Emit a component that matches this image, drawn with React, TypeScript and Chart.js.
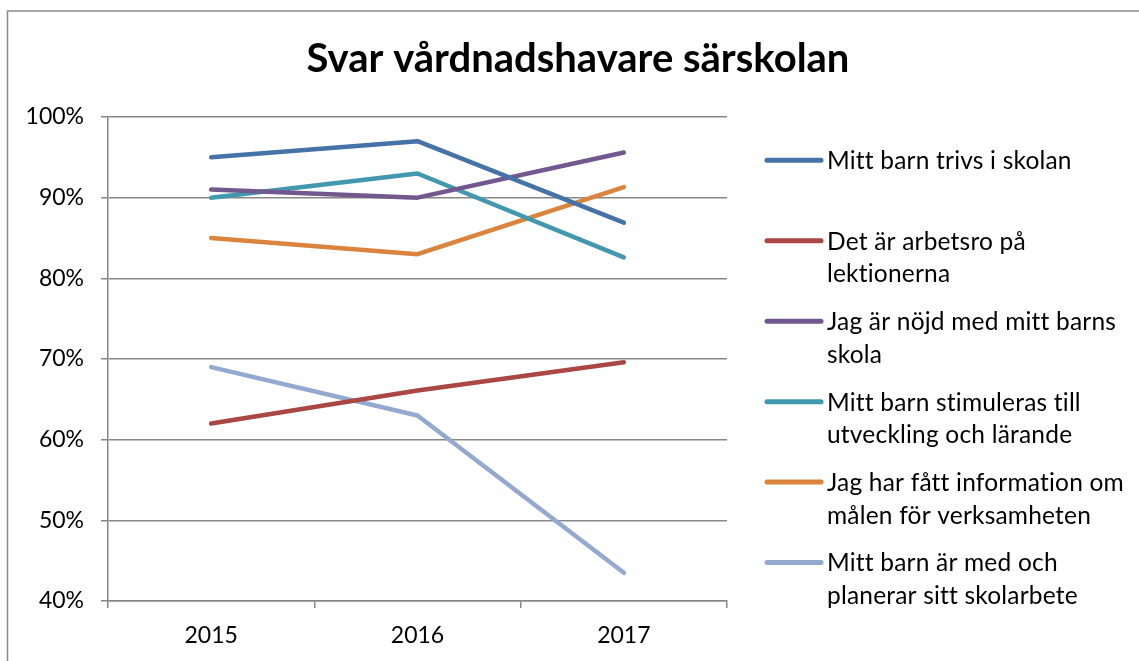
import React, { useEffect, useRef } from "react";
import { Chart, registerables } from "chart.js";

Chart.register(...registerables);

const categories = ["2015", "2016", "2017"];
const titleText = "Svar vårdnadshavare särskolan";
const yTicks = [40, 50, 60, 70, 80, 90, 100];

const seriesLines: string[][] = [
  ["Mitt barn trivs i skolan"],
  ["Det är arbetsro på", "lektionerna"],
  ["Jag är nöjd med mitt barns", "skola"],
  ["Mitt barn stimuleras till", "utveckling och lärande"],
  ["Jag har fått information om", "målen för verksamheten"],
  ["Mitt barn är med och", "planerar sitt skolarbete"],
];
const trivs = [95, 97, 86.9];
const arbetsro = [62, 66.1, 69.6];
const nojd = [91, 90, 95.6];
const stimuleras = [90, 93, 82.6];
const information = [85, 83, 91.3];
const delaktig = [69, 63, 43.5];
const seriesValues = [trivs, arbetsro, nojd, stimuleras, information, delaktig];
const seriesColors = ["#4572A7", "#AA4643", "#71588F", "#4198AF", "#DB843D", "#93A9CF"];

const FONT = "Lato, 'Open Sans', sans-serif";

const framePlugin = {
  id: "frame",
  beforeDraw(chart: any) {
    const ctx = chart.ctx;
    ctx.save();
    ctx.fillStyle = "#ffffff";
    ctx.fillRect(0, 0, chart.width, chart.height);
    ctx.strokeStyle = "#8a8a8a";
    ctx.lineWidth = 1.5;
    ctx.strokeRect(7.5, 11, chart.width + 20, chart.height + 20);
    ctx.restore();
  },
};

const titlePlugin = {
  id: "centerTitle",
  afterDraw(chart: any) {
    const ctx = chart.ctx;
    ctx.save();
    ctx.font = `bold 40px ${FONT}`;
    ctx.fillStyle = "#000000";
    ctx.textAlign = "center";
    ctx.textBaseline = "alphabetic";
    ctx.fillText(chart.options.plugins.centerTitle.text, 578, 72);
    ctx.restore();
  },
};

const legendPlugin = {
  id: "sideLegend",
  afterDraw(chart: any) {
    const ctx = chart.ctx;
    const area = chart.chartArea;
    ctx.save();
    ctx.font = `24.5px ${FONT}`;
    try { (ctx as any).letterSpacing = "0.2px"; } catch (e) {}
    ctx.textBaseline = "middle";
    ctx.textAlign = "left";
    chart.data.datasets.forEach((ds: any, i: number) => {
      const y = 160.3 + i * 80.45;
      const x0 = area.right + 40;
      ctx.strokeStyle = ds.borderColor;
      ctx.lineWidth = 5;
      ctx.lineCap = "round";
      ctx.beginPath();
      ctx.moveTo(x0, y);
      ctx.lineTo(x0 + 54, y);
      ctx.stroke();
      ctx.fillStyle = "#000000";
      (ds.lines as string[]).forEach((ln, j) => {
        ctx.fillText(ln, x0 + 60, y + 1 + j * 32.5);
      });
    });
    ctx.restore();
  },
};

export default function App() {
  const ref = useRef<HTMLCanvasElement | null>(null);
  useEffect(() => {
    document.body.style.margin = "0";
    const canvas = ref.current!;
    const chart = new Chart(canvas, {
      type: "line",
      data: {
        labels: categories,
        datasets: seriesValues.map((vals, i) => ({
          label: seriesLines[i].join(" "),
          lines: seriesLines[i],
          data: vals,
          borderColor: seriesColors[i],
          backgroundColor: seriesColors[i],
          borderWidth: 4.5,
          pointRadius: 0,
          borderCapStyle: "round",
          borderJoinStyle: "round",
          tension: 0,
        })) as any,
      },
      options: {
        animation: false,
        responsive: false,
        layout: { padding: { left: 8, right: 412, top: 117, bottom: 0 } },
        plugins: {
          legend: { display: false },
          tooltip: { enabled: false },
          title: { display: false },
          centerTitle: { text: titleText },
        },
        scales: {
          x: {
            type: "category",
            offset: true,
            border: { display: true, color: "#878787", width: 1.5 },
            grid: { display: true, drawOnChartArea: false, drawTicks: true, tickLength: 7, offset: true, color: "#878787", lineWidth: 1.5 },
            ticks: { color: "#000000", font: { family: FONT, size: 23 }, padding: 14, maxRotation: 0 },
            afterFit: (s: any) => { s.height = 60; },
          },
          y: {
            min: 40,
            max: 100,
            afterBuildTicks: (s: any) => { s.ticks = yTicks.map((v) => ({ value: v })); },
            border: { display: true, color: "#878787", width: 1.5 },
            grid: { color: "#878787", lineWidth: 1.5, tickLength: 7 },
            ticks: { color: "#000000", font: { family: FONT, size: 23 }, padding: 17, callback: (v: any) => `${v}%` },
            afterFit: (s: any) => { s.width = 100; },
          },
        },
      } as any,
      plugins: [framePlugin, titlePlugin, legendPlugin],
    });
    return () => chart.destroy();
  }, []);
  return <canvas ref={ref} width={1139} height={661} style={{ display: "block" }} />;
}
